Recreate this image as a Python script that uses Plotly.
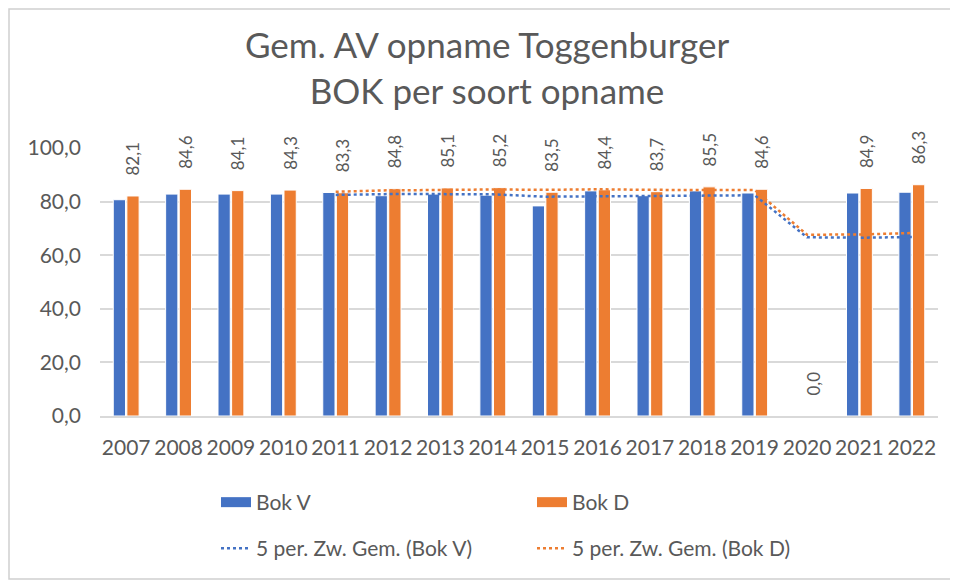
import plotly.graph_objects as go
import pandas as pd

years = ["2007", "2008", "2009", "2010", "2011", "2012", "2013", "2014",
         "2015", "2016", "2017", "2018", "2019", "2020", "2021", "2022"]
bok_v = [80.7, 82.8, 82.8, 82.8, 83.4, 82.2, 82.8, 82.4,
         78.4, 84.0, 82.2, 84.0, 83.2, 0.0, 83.2, 83.5]
bok_d = [82.1, 84.6, 84.1, 84.3, 83.3, 84.8, 85.1, 85.2,
         83.5, 84.4, 83.7, 85.5, 84.6, 0.0, 84.9, 86.3]
y_ticks = [0, 20, 40, 60, 80, 100]

ma_v = pd.Series(bok_v).rolling(5).mean().tolist()
ma_d = pd.Series(bok_d).rolling(5).mean().tolist()

BLUE = "#4472C4"
ORANGE = "#ED7D31"
TXT = "#595959"
GRID = "#D9D9D9"
FONT = "Lato"

fig = go.Figure()
fig.add_trace(go.Bar(x=years, y=bok_v, name="Bok V", marker_color=BLUE,
                     marker_line=dict(color="white", width=1), showlegend=False))
fig.add_trace(go.Bar(x=years, y=bok_d, name="Bok D", marker_color=ORANGE,
                     marker_line=dict(color="white", width=1), showlegend=False,
                     texttemplate="\u00a0\u00a0\u00a0\u00a0%{y:.1f}",
                     textposition="outside",
                     textangle=-90, constraintext="none", cliponaxis=False,
                     textfont=dict(color=TXT, size=17, family=FONT)))
fig.add_trace(go.Scatter(x=years, y=ma_v, mode="lines", name="5 per. Zw. Gem. (Bok V)",
                         line=dict(color=BLUE, width=2.5, dash="dot"), legend="legend2"))
fig.add_trace(go.Scatter(x=years, y=ma_d, mode="lines", name="5 per. Zw. Gem. (Bok D)",
                         line=dict(color=ORANGE, width=2.5, dash="dot"), legend="legend2"))
# legend swatches for the bar series
fig.add_trace(go.Scatter(x=[None], y=[None], mode="lines", name="Bok V",
                         line=dict(color=BLUE, width=12), legend="legend"))
fig.add_trace(go.Scatter(x=[None], y=[None], mode="lines", name="Bok D",
                         line=dict(color=ORANGE, width=12), legend="legend"))

# figure coordinates (page is offset by the 8px body margin)
W, H = 950, 573
L, R, T, B = 92, 20, 140, 165
pw, ph = W - L - R, H - T - B

def px_x(p):
    return (p - L) / pw

def px_y(p):
    return (H - B - p) / ph

fig.update_layout(
    width=W, height=H,
    margin=dict(l=L, r=R, t=T, b=B, autoexpand=False),
    paper_bgcolor="white", plot_bgcolor="white",
    separators=", ",
    font=dict(family=FONT, color=TXT, size=21),
    title=dict(text="Gem. AV opname Toggenburger<br>BOK per soort opname",
               x=(487 - 8) / W, xanchor="center", y=1 - 50 / H, yanchor="top",
               font=dict(size=35, color=TXT, family=FONT)),
    barmode="group", bargap=0.48, bargroupgap=0.1,
    xaxis=dict(type="category", showgrid=False, showline=True, linecolor=GRID,
               linewidth=2, ticks="", tickfont=dict(size=21, color=TXT),
               ticklabelstandoff=12),
    yaxis=dict(range=[0, 100], tickvals=y_ticks, tickformat=".1f", showgrid=True,
               gridcolor=GRID, gridwidth=1.5, zeroline=False, showline=False,
               tickfont=dict(size=21, color=TXT), ticklabelstandoff=18),
    legend=dict(orientation="h", x=px_x(208), xanchor="left", y=px_y(474), yanchor="top",
                entrywidth=271, entrywidthmode="pixels", font=dict(size=21, color=TXT),
                bgcolor="rgba(0,0,0,0)"),
    legend2=dict(orientation="h", x=px_x(208), xanchor="left", y=px_y(520), yanchor="top",
                 entrywidth=271, entrywidthmode="pixels", font=dict(size=21, color=TXT),
                 bgcolor="rgba(0,0,0,0)"),
    shapes=[dict(type="rect", xref="paper", yref="paper",
                 x0=px_x(1), x1=px_x(943), y0=px_y(571), y1=px_y(1),
                 line=dict(color="#D0D0D0", width=1.5), fillcolor="rgba(0,0,0,0)",
                 layer="below")],
)

fig.write_html("out.html")
